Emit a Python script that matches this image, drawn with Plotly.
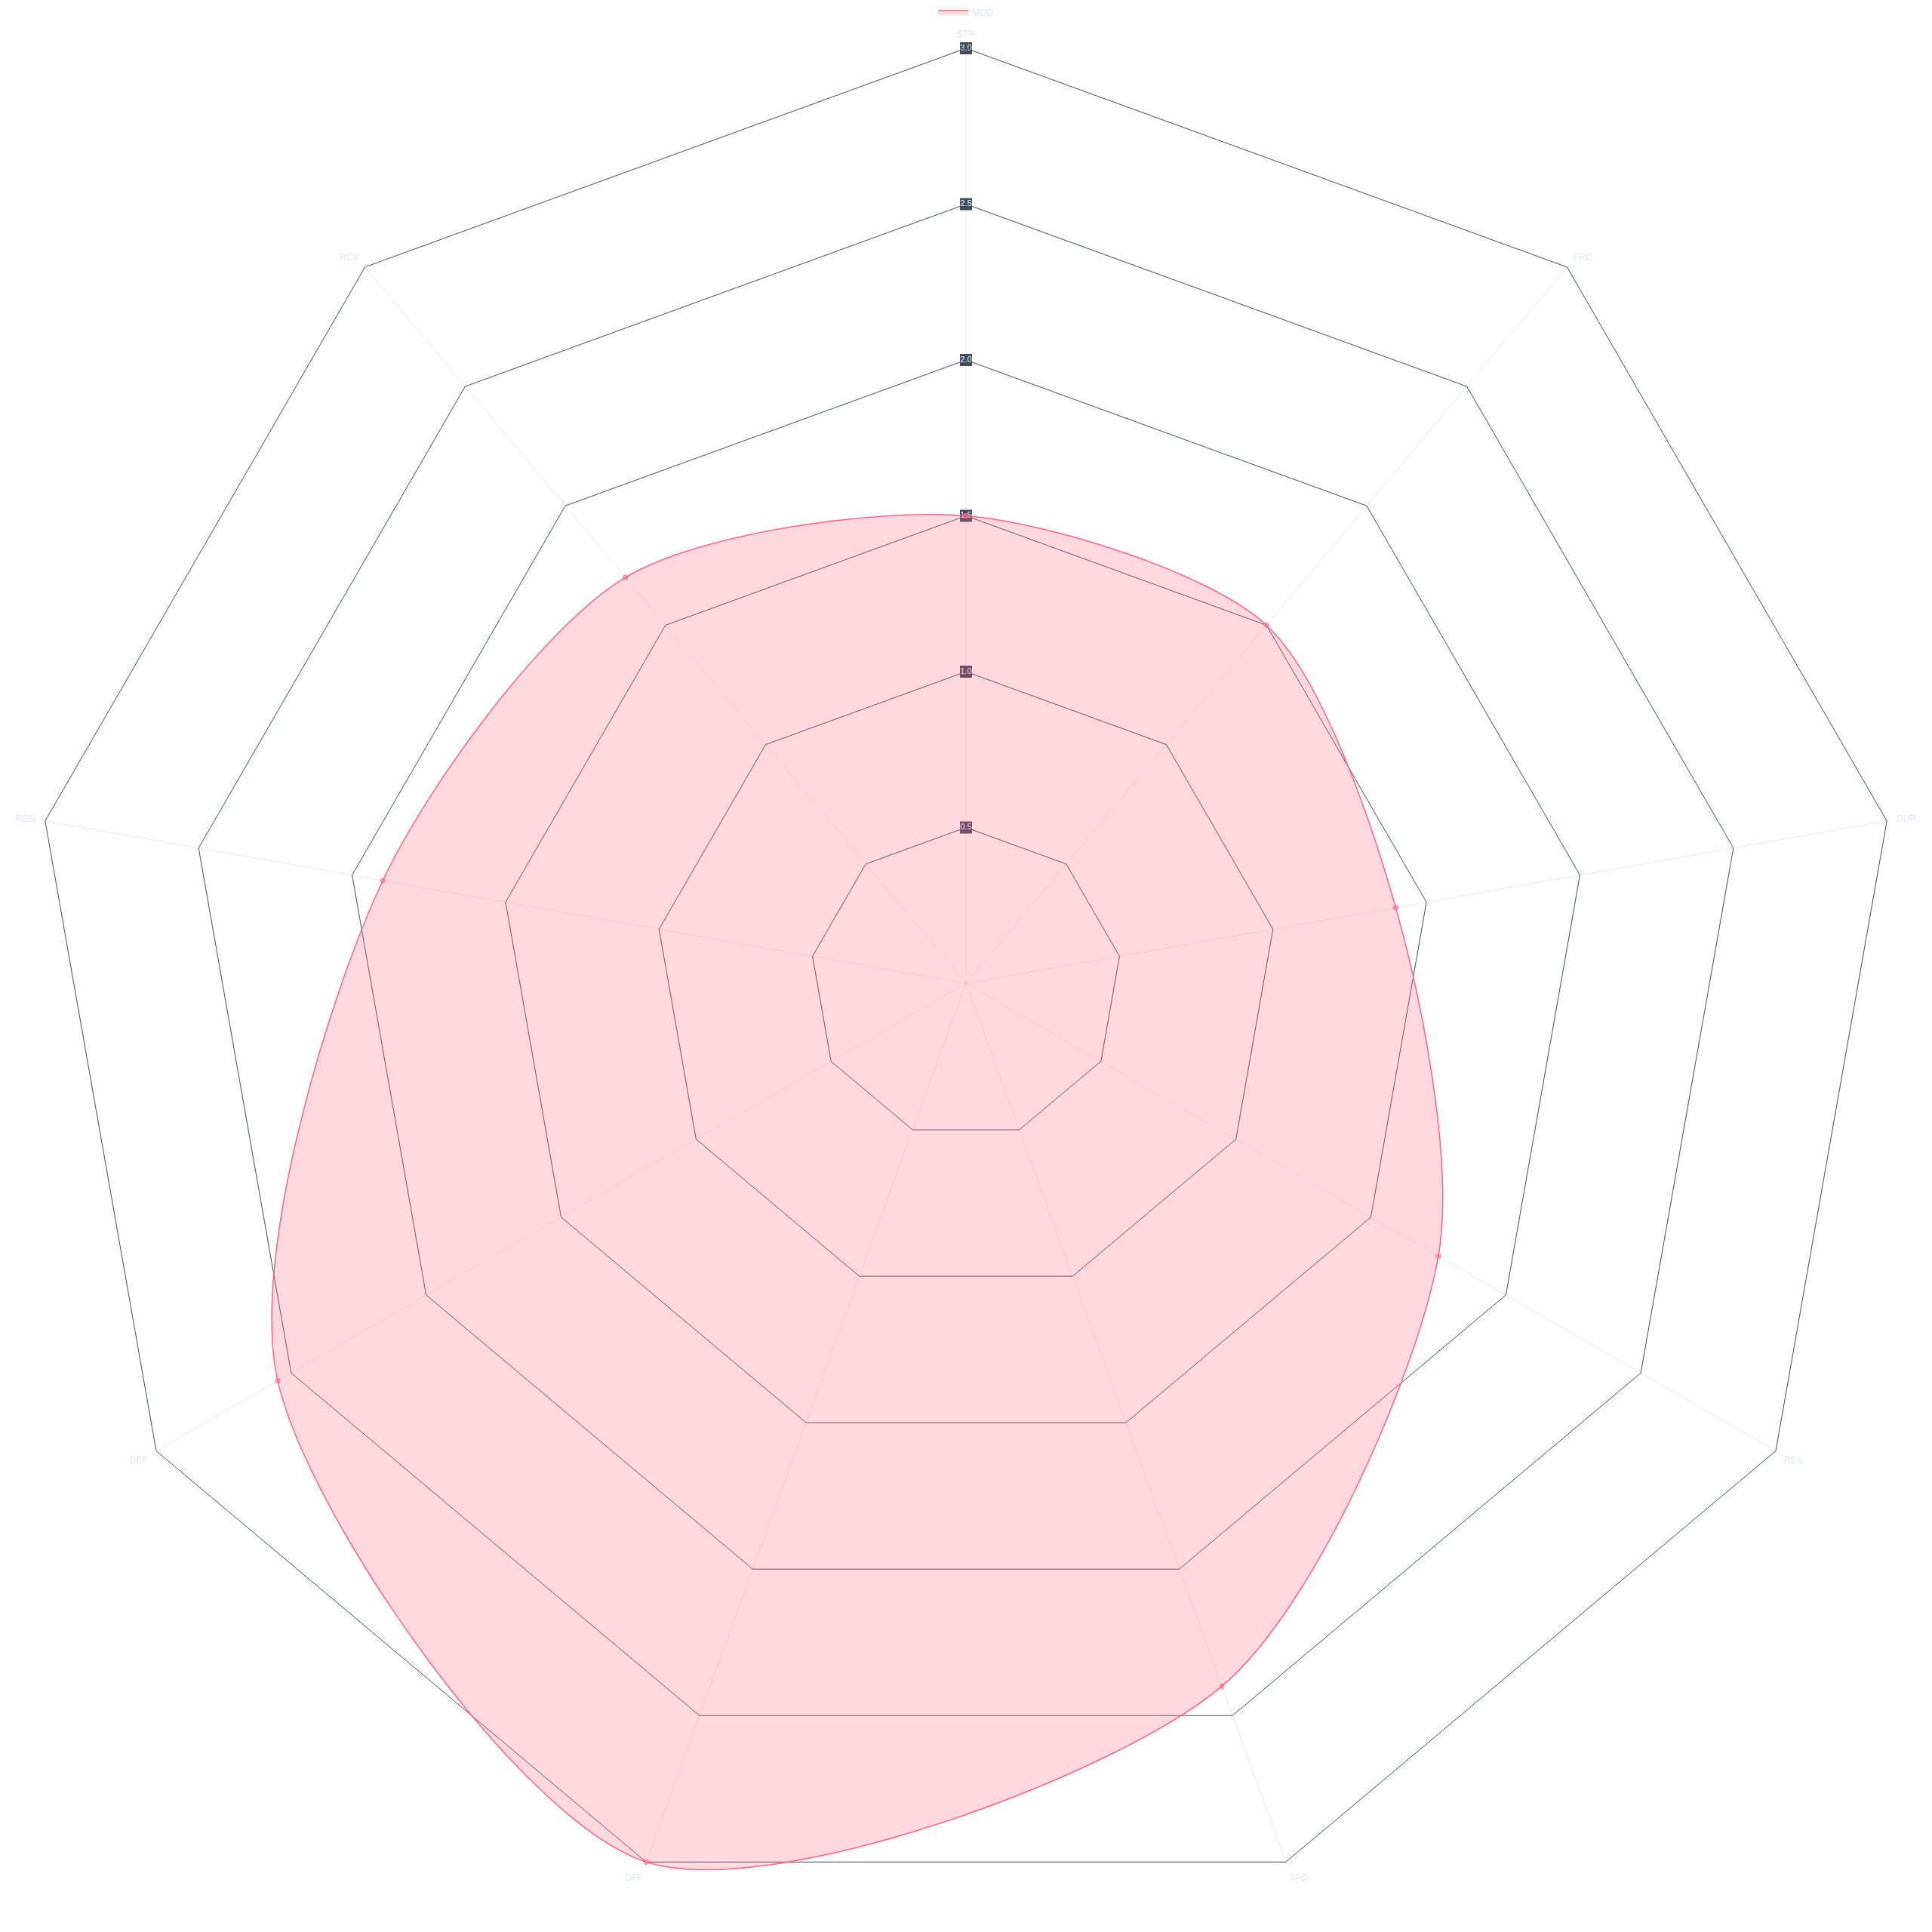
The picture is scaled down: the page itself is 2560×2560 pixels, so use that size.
import plotly.graph_objects as go

categories = ["STR", "FRC", "DUR", "RES", "SPD", "OFF", "DEF", "RGN", "RCV"]
mod_values = [1.5, 1.5, 1.4, 1.75, 2.4, 3.0, 2.55, 1.9, 1.7]
tick_values = [0.5, 1.0, 1.5, 2.0, 2.5, 3.0]
tick_labels = ["0.5", "1.0", "1.5", "2.0", "2.5", "3.0"]
series_name = "MOD"

LINE = "rgb(255,99,132)"
FILL = "rgba(255,99,132,0.25)"
GRID = "#414a5e"
SPOKE = "#e9e9ec"
LABEL = "#e2e6ef"
BOX = "#424a5e"
FONT = "Liberation Sans, Arial, sans-serif"

W = H = 2560
CX, CY, RAD = 1280, 1303, 1239          # pixel geometry of the scale (range 0..3)
R_MAX = 3.0
R_OUT = 3.04                              # wider, invisible polar for the data (avoid clipping)
RAD2 = RAD * R_OUT / R_MAX


def dom(r):
    return dict(x=[(CX - r) / W, (CX + r) / W], y=[1 - (CY + r) / H, 1 - (CY - r) / H])


fig = go.Figure()

# radial tick labels with dark backdrop, drawn beneath the data
fig.add_trace(go.Scatterpolar(
    r=tick_values, theta=[categories[0]] * len(tick_values),
    mode="markers+text", text=tick_labels,
    textposition="middle center",
    textfont=dict(size=11, color="#eef0f4", family=FONT),
    marker=dict(symbol="square", size=16, color=BOX, line=dict(width=0)),
    showlegend=False, hoverinfo="skip", cliponaxis=False, subplot="polar",
))

fig.add_trace(go.Scatterpolar(
    r=mod_values + [mod_values[0]], theta=categories + [categories[0]],
    name=series_name, mode="lines+markers", fill="toself",
    fillcolor=FILL, line=dict(color=LINE, width=1.5, shape="spline", smoothing=0.8),
    marker=dict(size=6, color="rgba(255,99,132,0.4)", line=dict(color=LINE, width=1)),
    showlegend=False, subplot="polar2", cliponaxis=False,
))

# legend entry (box)
fig.add_trace(go.Scatterpolar(
    r=[None], theta=[None], name=series_name, mode="lines", fill="toself",
    fillcolor=FILL, line=dict(color=LINE, width=1.5),
    showlegend=True, subplot="polar2",
))

hidden_angular = dict(direction="clockwise", rotation=90, showline=False, showgrid=False,
                      showticklabels=False, ticks="", categoryarray=categories,
                      type="category")

fig.update_layout(
    width=W, height=H,
    paper_bgcolor="white", plot_bgcolor="white",
    margin=dict(l=0, r=0, t=0, b=0),
    font=dict(family=FONT, color=LABEL, size=12),
    showlegend=True,
    legend=dict(orientation="h", x=0.5, xanchor="center", y=1 - 16 / H, yanchor="middle",
                font=dict(size=12, color=LABEL), bgcolor="rgba(0,0,0,0)", itemwidth=40),
    polar=dict(
        bgcolor="white",
        gridshape="linear",
        domain=dom(RAD),
        radialaxis=dict(range=[0, R_MAX], tickvals=tick_values[:-1], showticklabels=False,
                        ticks="", showline=False, gridcolor=GRID, gridwidth=1),
        angularaxis=dict(direction="clockwise", rotation=90, showline=True,
                         categoryarray=categories, type="category",
                         linecolor=GRID, linewidth=1, gridcolor=SPOKE, gridwidth=1,
                         ticks="outside", ticklen=10, tickcolor="rgba(0,0,0,0)",
                         tickfont=dict(size=12, color=LABEL, family=FONT)),
    ),
    polar2=dict(
        bgcolor="rgba(0,0,0,0)",
        gridshape="circular",
        domain=dom(RAD2),
        radialaxis=dict(range=[0, R_OUT], visible=False, showgrid=False, showline=False,
                        showticklabels=False, ticks=""),
        angularaxis=hidden_angular,
    ),
)

fig.write_html("out.html")
